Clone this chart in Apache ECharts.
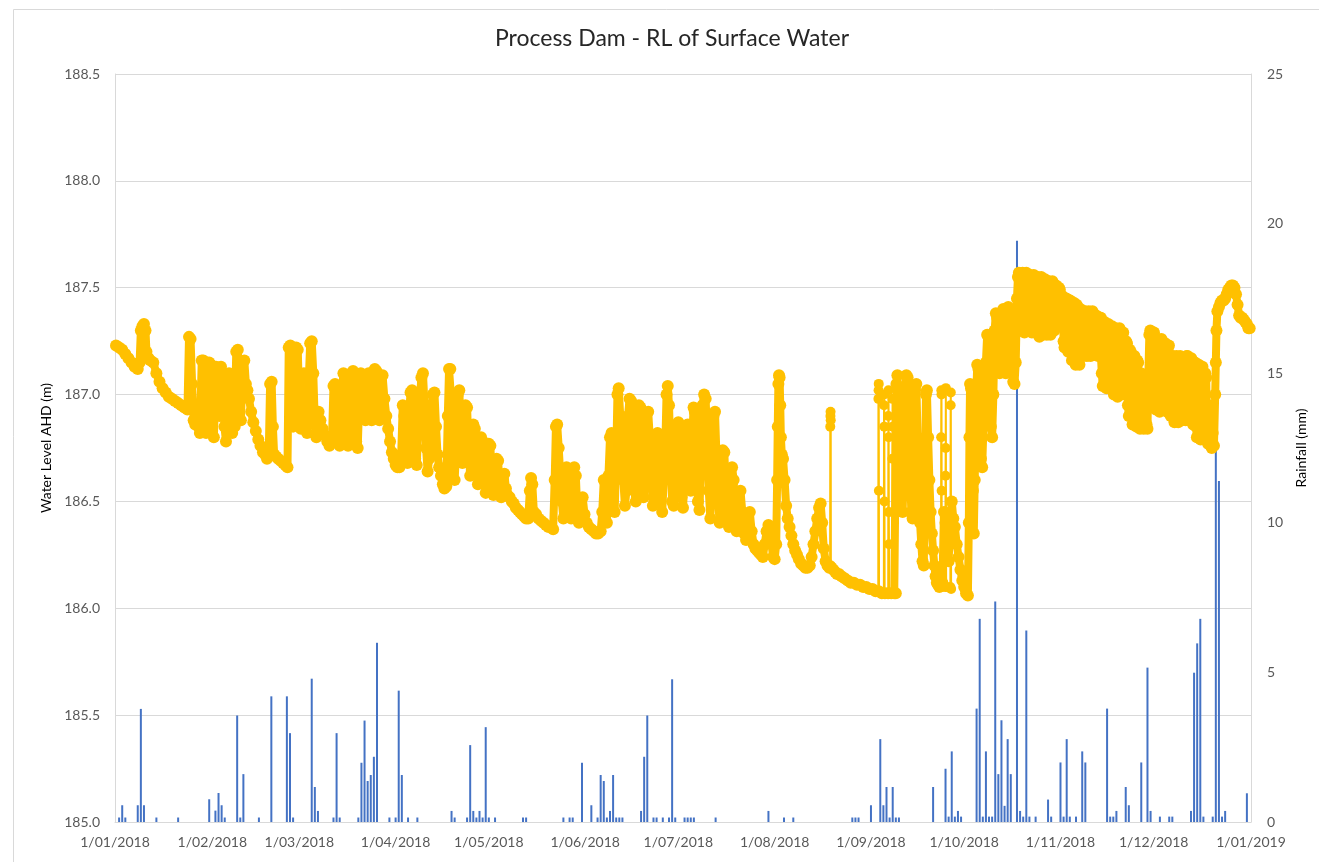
<!DOCTYPE html>
<html><head><meta charset="utf-8">
<script src="https://cdn.jsdelivr.net/npm/echarts@6/dist/echarts.min.js"></script>
<style>html,body{margin:0;padding:0;background:#fff}#c{width:1319px;height:862px}</style>
</head><body><div id="c"></div><script>
const START = Date.UTC(2018, 0, 1);
const END = Date.UTC(2019, 0, 1);
const DAY = 86400000;
const chartTitle = 'Process Dam - RL of Surface Water';
const leftAxisName = 'Water Level AHD (m)';
const rightAxisName = 'Rainfall (mm)';
const levelTicks = [185.0, 185.5, 186.0, 186.5, 187.0, 187.5, 188.0, 188.5];
const rainTicks = [0, 5, 10, 15, 20, 25];

// rainfall: day of year (0 = 1 Jan 2018) and mm
const rainDays = [1,2,3,7,8,9,13,20,30,32,33,34,35,39,40,41,46,50,55,56,57,63,64,65,70,71,72,78,79,80,81,82,83,84,88,90,91,92,94,97,
108,109,113,114,115,116,117,118,119,120,122,131,132,144,146,147,150,153,155,156,157,158,159,160,161,162,163,169,170,171,173,174,176,178,179,180,183,184,185,186,193,
210,215,218,237,238,239,243,246,247,248,249,250,251,252,263,267,268,269,270,271,272,277,278,279,280,281,282,283,284,285,286,287,288,290,291,292,293,294,296,
300,301,304,305,306,307,309,311,312,319,320,321,322,325,326,330,332,333,336,339,340,346,347,348,349,350,353,354,355,356,357,364];
const rainMm = [0.15,0.56,0.15,0.56,3.78,0.56,0.15,0.15,0.76,0.38,0.97,0.56,0.15,3.56,0.15,1.6,0.15,4.2,4.2,2.97,0.15,4.79,1.17,0.37,0.15,2.97,0.15,0.15,1.98,3.39,1.37,1.57,2.18,5.99,0.15,0.15,4.39,1.57,0.15,0.15,
0.37,0.15,0.15,2.57,0.37,0.15,0.37,0.15,3.17,0.15,0.15,0.15,0.15,0.15,0.15,0.15,1.98,0.56,0.15,1.57,1.37,0.15,0.37,1.57,0.15,0.15,0.15,0.37,2.18,3.56,0.15,0.15,0.15,0.15,4.77,0.15,0.15,0.15,0.15,0.15,0.15,
0.37,0.15,0.15,0.15,0.15,0.15,0.56,2.77,0.56,1.17,0.15,1.17,0.15,0.15,1.17,1.78,0.18,2.36,0.18,0.37,0.18,3.79,6.79,0.18,2.36,0.18,0.18,7.37,1.6,3.4,0.54,2.77,1.6,19.43,0.37,0.18,6.4,0.18,0.18,
0.75,0.18,1.99,0.18,2.77,0.18,0.18,2.36,1.99,3.79,0.18,0.18,0.37,1.17,0.56,1.99,5.16,0.37,0.18,0.18,0.18,0.37,4.99,5.97,6.79,0.18,0.18,17.2,11.4,0.18,0.37,0.96];

// water level readings: [day of year, RL (m)]
const waterLevel = [
[0,187.23],[1,187.22],[2,187.21],[3,187.19],[4,187.17],[5,187.15],[6,187.13],[7,187.12],[7.6,187.15],[8,187.3],[8.5,187.32],[9,187.33],[9.5,187.3],[9.8,187.2],[10.5,187.17],[11,187.16],[12,187.15],[13,187.1],[14,187.06],[15,187.03],[16,187.01],[17,186.99],[18,186.98],[19,186.97],[20,186.96],[21,186.95],[22,186.94],[23,186.93],
[23.5,187.27],[24,187.26],[24.5,187.05],[25,186.88],[25.5,186.86],[26,186.92],[26.5,186.85],[27,186.82],[27.6,187.16],[28.1,187.16],[28.6,186.95],[29,186.82],[29.5,186.86],[30,187.15],[30.5,187.14],[31,186.9],[31.5,186.8],[32.2,187.13],[32.8,187.12],[33.3,186.9],[33.8,187.13],[34.4,187.1],[34.9,186.85],[35.4,186.78],[35.9,187.08],[36.4,187.1],[36.9,186.9],[37.4,186.82],[38.2,186.85],[38.7,187.2],[39.2,187.21],[39.7,187.05],[40.2,186.88],[40.8,187.15],[41.3,187.16],[41.8,187.05],[42.3,187.02],
[42.8,186.98],[43.5,186.92],[44.2,186.87],[45,186.83],[45.8,186.79],[46.5,186.76],[47.3,186.73],[48,186.72],[48.6,186.7],[49.2,186.75],[49.6,187.05],[50.1,187.06],[50.5,186.85],[50.9,186.72],[51.5,186.71],[52.2,186.7],[53,186.69],[53.8,186.68],[54.5,186.67],[55.2,186.66],[55.6,187.22],[56.1,187.23],[56.6,187],[57,186.85],[57.5,187.05],[58,187.22],[58.5,187.21],[59,186.95],[59.5,186.84],[60,186.9],[60.5,187.1],[61,186.92],[61.5,186.82],[62,187.05],[62.5,187.24],[63,187.25],[63.5,187.1],[64,186.86],[64.5,186.8],
[65.2,186.92],[65.8,186.88],[66.5,186.84],[67.2,186.81],[68,186.78],[68.7,186.76],[69.5,186.78],[70,187.04],[70.5,187.05],[71,186.9],[71.5,186.8],[72,186.76],[72.6,187],[73.2,187.1],[73.7,187.09],[74.2,186.88],[74.7,186.76],[75.3,186.8],[75.8,187.1],[76.3,187.11],[76.8,186.92],[77.3,186.78],[77.8,186.75],[78.3,186.98],[78.8,187.1],[79.3,187.08],[79.8,186.9],[80.3,186.88],[80.8,187.08],[81.3,187.1],[81.8,186.95],[82.3,186.88],[82.8,187.05],[83.3,187.12],[83.8,187.11],[84.3,186.95],[84.8,186.88],[85.3,187],[85.8,187.09],
[86.4,186.98],[87,186.9],[87.6,186.84],[88.2,186.78],[88.8,186.73],[89.4,186.7],[90,186.67],[90.6,186.66],[91.2,186.66],
[91.8,186.72],[92.3,186.95],[92.8,186.9],[93.3,186.7],[93.8,186.68],[94.3,186.9],[94.8,187.01],[95.3,187.02],[95.8,186.85],[96.3,186.7],[96.8,186.67],[97.3,186.85],[97.8,186.98],[98.3,187.08],[98.8,187.1],[99.3,186.95],[99.8,186.75],[100.3,186.64],
[100.8,186.7],[101.4,186.92],[102,187],[102.5,187.01],[103,186.85],[103.5,186.72],[104,186.66],[104.6,186.62],[105.2,186.58],[105.7,186.56],[106.3,186.57],[106.8,186.9],[107.2,187.12],[107.6,187.12],[108,186.95],[108.5,186.8],[109,186.6],
[109.5,186.75],[110,187],[110.5,187.02],[111,186.82],[111.5,186.68],[112,186.8],[112.5,186.95],[113,186.94],[113.5,186.75],[114,186.62],[114.5,186.72],[115,186.86],[115.5,186.84],[116,186.65],[116.5,186.58],
[117,186.72],[117.5,186.8],[118,186.78],[118.5,186.6],[119,186.54],[119.5,186.65],[120,186.77],[120.5,186.76],[121,186.58],[121.5,186.53],[122,186.62],[122.5,186.7],[123,186.69],[123.5,186.55],[124,186.52],
[124.5,186.6],[125,186.63],[125.5,186.56],[126,186.53],[126.7,186.52],[127.4,186.5],[128,186.49],[128.7,186.47],[129.4,186.46],[130,186.45],[130.7,186.44],[131.4,186.43],[132,186.42],[132.7,186.42],[133.2,186.55],[133.6,186.61],[134,186.58],[134.5,186.45],
[135.2,186.44],[136,186.42],[136.8,186.41],[137.6,186.4],[138.4,186.39],[139.2,186.38],[140,186.38],[140.7,186.37],[141.2,186.6],[141.6,186.85],[142,186.86],[142.5,186.75],[143,186.62],[143.5,186.5],[144,186.42],[144.5,186.55],
[145,186.66],[145.5,186.64],[146,186.48],[146.5,186.42],[147,186.55],[147.5,186.66],[148,186.62],[148.5,186.45],[149,186.4],[149.6,186.45],[150.2,186.52],[150.8,186.44],[151.5,186.4],[152.2,186.38],[153,186.37],[153.8,186.36],[154.5,186.35],[155.2,186.35],[156,186.36],
[156.5,186.45],[157,186.6],[157.5,186.5],[158,186.4],[158.5,186.62],[159,186.8],[159.5,186.82],[160,186.6],[160.5,186.45],[161,186.7],[161.4,187],[161.8,187.03],[162.3,186.9],[162.8,186.75],[163.3,186.6],[163.8,186.48],[164.3,186.55],[164.8,186.9],
[165.3,186.98],[165.8,186.97],[166.3,186.75],[166.8,186.55],[167.3,186.5],[167.8,186.75],[168.3,186.95],[168.8,186.94],[169.3,186.7],[169.8,186.52],[170.3,186.6],[170.8,186.85],[171.3,186.92],[171.8,186.8],[172.3,186.6],[172.8,186.48],[173.3,186.55],
[173.8,186.8],[174.3,186.82],[174.8,186.65],[175.3,186.5],[175.8,186.45],[176.3,186.6],[176.8,186.75],[177.2,187],[177.6,187.04],[178,186.95],[178.5,186.7],[179,186.5],
[179.5,186.48],[180,186.7],[180.5,186.86],[181,186.87],[181.5,186.7],[182,186.52],[182.5,186.47],[183,186.6],[183.5,186.83],[184,186.86],[184.5,186.65],[185,186.55],[185.5,186.8],[185.9,186.94],[186.3,186.92],[186.8,186.7],
[187.3,186.5],[187.8,186.46],[188.3,186.7],[188.8,186.95],[189.3,187],[189.8,186.98],[190.3,186.75],[190.8,186.55],[191.3,186.42],[191.8,186.65],[192.3,186.9],[192.8,186.92],[193.3,186.7],[193.8,186.5],[194.3,186.4],
[194.8,186.55],[195.3,186.74],[195.8,186.73],[196.3,186.55],[196.8,186.42],[197.3,186.38],[197.8,186.5],[198.3,186.66],[198.8,186.6],[199.3,186.42],
[199.8,186.36],[200.4,186.52],[201,186.55],[201.6,186.45],[202.2,186.35],[202.8,186.32],[203.4,186.4],[204,186.45],[204.6,186.36],[205.2,186.3],[205.8,186.28],[206.4,186.27],[207,186.26],
[207.6,186.25],[208.2,186.24],[208.8,186.3],[209.4,186.36],[210,186.39],[210.5,186.38],[211,186.3],[211.5,186.24],[212,186.23],
[212.5,186.3],[212.8,186.6],[213,186.85],[213.2,187.05],[213.4,187.09],[213.6,187.08],[213.8,186.95],[214,186.8],[214.3,186.72],[214.7,186.7],
[215.2,186.6],[215.7,186.48],[216.2,186.42],[216.8,186.38],[217.4,186.34],[218,186.3],[218.6,186.27],[219.2,186.25],[219.8,186.23],
[220.5,186.21],[221.2,186.2],[221.9,186.19],[222.6,186.19],[223.3,186.2],[223.9,186.24],[224.5,186.3],[225.1,186.36],[225.7,186.42],[226.3,186.47],[226.8,186.49],[227.3,186.4],[227.8,186.28],[228.4,186.22],[229,186.2],[229.6,186.19],
[230.3,186.19],[230.9,186.18],[231.5,186.17],[232.1,186.16],[232.7,186.16],[233.5,186.15],[234.5,186.14],[235.5,186.13],[236.5,186.12],[237.5,186.12],[238.5,186.11],[239.5,186.11],[240.5,186.1],[241.5,186.1],[242.5,186.09],[243.5,186.09],[244.5,186.08],
[245.5,186.08],[246.5,186.07],[247.5,186.07],[248.5,186.07],[249.5,186.07],[250.5,186.07],[251,186.07],
[251.2,187.05],[251.5,187.09],[252,186.95],[252.4,186.75],[252.8,186.55],[253.2,186.45],[253.6,186.7],[254,187],[254.4,187.09],[254.8,187.08],[255.2,186.85],[255.6,186.62],[256,186.45],[256.4,186.42],[256.8,186.7],[257.2,187.02],[257.6,187.05],[258,186.8],[258.4,186.55],[258.8,186.4],[259.2,186.3],[259.6,186.22],[260,186.2],
[260.4,186.6],[260.7,187],[261,187.02],[261.4,186.8],[261.8,186.6],[262.2,186.45],[262.6,186.35],[263,186.27],[263.4,186.2],[263.8,186.15],[264.2,186.12],[264.6,186.11],
[265,186.1],[265.5,186.11],[266,186.12],[266.5,186.45],[267,186.4],[267.5,186.3],[268,186.22],[268.5,186.4],[269,186.5],[269.5,186.42],
[270,186.38],[270.6,186.3],[271.2,186.24],[271.8,186.18],[272.4,186.13],[273,186.1],[273.6,186.07],[274.2,186.06],
[274.5,186.4],[274.7,186.8],[274.9,187.05],[275.2,187.03],[275.5,186.8],[275.8,186.55],[276.1,186.35],[276.4,186.6],
[276.8,186.95],[277.2,187.14],[277.6,187.12],[278,186.9],[278.4,186.7],[278.8,186.66],[279.2,186.85],[279.6,187.1],[280,187.15],[280.4,187.28],[280.8,187.27],[281.2,187],[281.6,186.85],[282,186.8],[282.4,187],
[282.8,187.3],[283.2,187.38],[283.6,187.36],[284,187.15],[284.4,187.1],[284.8,187.25],[285.2,187.38],[285.6,187.4],
[286,187.2],[286.4,187.1],[286.8,187.3],[287.2,187.41],[287.6,187.4],[288,187.25],[288.4,187.12],[288.8,187.06],[289.2,187.05],[289.6,187.15],
[290,187.45],[290.3,187.55],[290.6,187.57],[290.9,187.35],[291.2,187.3],[291.5,187.55],[291.8,187.57],[292.1,187.32],[292.4,187.29],[292.7,187.56],[293,187.57],[293.3,187.33],[293.6,187.3],[293.9,187.56],[294.2,187.56],[294.5,187.31],[294.8,187.29],[295.1,187.55],[295.4,187.56],[295.7,187.32],[296,187.29],[296.3,187.55],[296.6,187.55],[296.9,187.3],[297.2,187.27],[297.5,187.54],[297.8,187.55],[298.1,187.3],[298.4,187.28],[298.7,187.54],[299,187.54],[299.3,187.3],[299.6,187.28],[299.9,187.53],[300.2,187.53],[300.5,187.3],[300.8,187.28],[301.1,187.52],[301.4,187.53],[301.7,187.32],[302,187.3],[302.3,187.51],[302.6,187.51],[302.9,187.33],[303.2,187.32],[303.5,187.5],[303.8,187.49],[304.1,187.35],
[304.4,187.45],[304.7,187.46],[305,187.25],[305.3,187.22],[305.6,187.45],[305.9,187.45],[306.2,187.24],[306.5,187.2],[306.8,187.44],[307.1,187.44],[307.4,187.2],[307.7,187.16],[308,187.42],[308.3,187.43],[308.6,187.17],[308.9,187.14],[309.2,187.42],[309.5,187.41],[309.8,187.16],[310.1,187.14],[310.4,187.4],[310.7,187.39],[311,187.2],[311.3,187.18],[311.6,187.39],[311.9,187.39],[312.2,187.2],[312.5,187.18],[312.8,187.38],[313.1,187.39],[313.4,187.2],[313.7,187.18],[314,187.38],[314.3,187.39],[314.6,187.22],[314.9,187.2],[315.2,187.37],[315.5,187.37],[315.8,187.2],[316.1,187.18],[316.4,187.36],[316.7,187.36],
[317,187.36],[317.3,187.1],[317.6,187.04],[317.9,187.32],[318.2,187.34],[318.5,187.06],[318.8,187.03],[319.1,187.3],[319.4,187.33],[319.7,187.05],[320,187.03],[320.3,187.3],[320.6,187.32],[320.9,187.02],[321.2,187],[321.5,187.3],[321.8,187.31],[322.1,187.02],[322.4,186.99],[322.7,187.3],[323,187.31],[323.3,187.03],[323.6,187],[323.9,187.28],[324.2,187.29],[324.5,187.02],[324.8,187],[325.1,187.25],[325.4,187.24],[325.7,186.95],[326,186.9],[326.3,187.21],[326.6,187.2],[326.9,186.9],[327.2,186.86],[327.5,187.18],[327.8,187.18],[328.1,186.88],[328.4,186.85],[328.7,187.16],[329,187.15],[329.3,186.88],[329.6,186.84],[329.9,187.1],[330.2,187.08],[330.5,186.86],[330.8,186.84],[331.1,187.05],[331.4,187.02],[331.7,186.86],[332,186.84],
[332.3,187.1],[332.6,187.28],[332.9,187.3],[333.2,187],[333.5,186.95],[333.8,187.28],[334.1,187.29],[334.4,186.98],[334.7,186.93],[335,187.25],[335.3,187.26],[335.6,186.96],[335.9,186.92],[336.2,187.25],[336.5,187.26],[336.8,186.98],[337.1,186.94],[337.4,187.24],[337.7,187.24],[338,186.95],[338.3,186.92],[338.6,187.22],[338.9,187.23],[339.2,186.95],[339.5,186.9],[339.8,187.18],[340.1,187.18],[340.4,186.9],[340.7,186.87],[341,187.17],[341.3,187.18],[341.6,186.9],[341.9,186.87],[342.2,187.17],[342.5,187.18],[342.8,186.92],[343.1,186.88],[343.4,187.16],[343.7,187.17],[344,186.92],[344.3,186.88],[344.6,187.18],[344.9,187.18],[345.2,186.92],[345.5,186.88],[345.8,187.17],[346.1,187.17],[346.4,186.9],[346.7,186.86],[347,187.15],[347.3,187.15],[347.6,186.85],[347.9,186.8],[348.2,187.14],[348.5,187.14],[348.8,186.83],[349.1,186.79],[349.4,187.12],[349.7,187.13],[350,186.85],[350.3,186.8],[350.6,187.1],[350.9,187.08],[351.2,186.82],[351.5,186.77],[351.8,186.95],[352.1,186.92],[352.4,186.76],[352.7,186.75],[353,186.82],[353.4,186.76],
[353.8,187],[354,187.15],[354.2,187.3],[354.5,187.39],[355,187.41],[355.5,187.43],[356,187.44],[356.5,187.44],[357,187.45],[357.5,187.47],[358,187.49],[358.5,187.5],[359,187.51],[359.5,187.51],[360,187.5],[360.5,187.47],
[361,187.42],[361.5,187.37],[362,187.36],[362.5,187.36],[363,187.35],[363.5,187.34],[364,187.33],[364.5,187.31],[364.9,187.31]
];

// sparse readings drawn as thin traces (null separates traces)
const waterLevelTraces = [
[229.85,186.2],[229.9,186.85],[229.95,186.9],[230,186.92],[230.05,186.88],[230.1,186.2], null,
[245.35,186.08],[245.4,186.98],[245.45,187.02],[245.5,187.05],[245.55,186.55],[245.6,186.08],
[247.15,186.07],[247.2,186.95],[247.25,187.0],[247.3,186.85],[247.35,186.5],[247.4,186.07],
[248.55,186.07],[248.6,186.9],[248.65,187.02],[248.7,186.8],[248.75,186.45],[248.8,186.3],[248.85,186.07],
[249.85,186.07],[249.9,186.7],[249.95,186.98],[250,186.85],[250.05,186.07], null,
[265.55,186.1],[265.6,186.8],[265.65,187.02],[265.7,187.0],[265.75,186.55],[265.8,186.1],
[266.95,186.1],[267,186.62],[267.05,186.75],[267.1,187.03],[267.15,186.45],[267.2,186.1],
[268.55,186.1],[268.6,186.42],[268.65,186.95],[268.7,187.01],[268.75,186.4],[268.8,186.09]
];

const toTime = d => START + d * DAY;
const rainSeriesData = rainDays.map((d, i) => [toTime(d), rainMm[i]]);
const levelSeriesData = waterLevel.map(p => [toTime(p[0]), p[1]]);
const traceSegments = [];
let seg = [];
waterLevelTraces.forEach(p => {
  if (p === null) { if (seg.length) traceSegments.push(seg); seg = []; }
  else seg.push([toTime(p[0]), p[1]]);
});
if (seg.length) traceSegments.push(seg);

const FONT = 'Lato';
const ORANGE = '#FFC000';
const BLUE = '#4472C4';
const GRID = '#d9d9d9';

function fmtDate(v) {
  const dt = new Date(v + 12 * 3600 * 1000);
  return dt.getUTCDate() + '/' + String(dt.getUTCMonth() + 1).padStart(2, '0') + '/' + dt.getUTCFullYear();
}

const chart = echarts.init(document.getElementById('c'), null, {renderer: 'canvas'});
const series = [{
  name: 'Rainfall', type: 'bar', xAxisIndex: 0, yAxisIndex: 1,
  data: rainSeriesData, barWidth: 2, itemStyle: {color: BLUE}, z: 1, silent: true
}, {
  name: 'Water Level', type: 'line', xAxisIndex: 0, yAxisIndex: 0,
  data: levelSeriesData, symbol: 'circle', symbolSize: 12, showAllSymbol: true,
  itemStyle: {color: ORANGE}, lineStyle: {color: ORANGE, width: 8, cap: 'round', join: 'round'},
  sampling: null, z: 3, silent: true, clip: false
}];
traceSegments.forEach(s => series.push({
  name: 'Water Level', type: 'line', xAxisIndex: 0, yAxisIndex: 0,
  data: s, symbol: 'circle', symbolSize: 10, showAllSymbol: true,
  itemStyle: {color: ORANGE}, lineStyle: {color: ORANGE, width: 2},
  z: 3, silent: true
}));

chart.setOption({
  animation: false,
  useUTC: true,
  backgroundColor: '#ffffff',
  textStyle: {fontFamily: FONT},
  title: {
    text: chartTitle, left: 672, top: 27, textAlign: 'center', padding: 0,
    textStyle: {fontFamily: FONT, fontSize: 23, fontWeight: 'normal', color: '#262626'}
  },
  graphic: [{
    type: 'rect', left: 11, top: 7, silent: true,
    shape: {width: 1400, height: 900},
    style: {fill: 'none', stroke: GRID, lineWidth: 1}
  }],
  grid: {left: 115, right: 68, top: 74, bottom: 40, containLabel: false},
  xAxis: {
    type: 'time', min: START, max: END,
    minInterval: 28 * DAY, maxInterval: 31 * DAY, splitNumber: 12,
    axisLine: {show: true, lineStyle: {color: GRID, width: 1}},
    axisTick: {show: false},
    splitLine: {show: false},
    axisLabel: {formatter: fmtDate, color: '#595959', fontSize: 14, fontFamily: FONT, margin: 13, showMinLabel: true, showMaxLabel: true}
  },
  yAxis: [{
    type: 'value', position: 'left',
    min: levelTicks[0], max: levelTicks[levelTicks.length - 1], interval: levelTicks[1] - levelTicks[0],
    name: leftAxisName, nameLocation: 'middle', nameRotate: 90, nameGap: 62,
    nameTextStyle: {color: '#000000', fontSize: 14, fontFamily: FONT},
    axisLine: {show: true, lineStyle: {color: GRID}},
    axisTick: {show: false},
    splitLine: {show: true, lineStyle: {color: GRID, width: 1}},
    axisLabel: {formatter: v => v.toFixed(1), color: '#595959', fontSize: 14, fontFamily: FONT, margin: 15}
  }, {
    type: 'value', position: 'right',
    min: rainTicks[0], max: rainTicks[rainTicks.length - 1], interval: rainTicks[1] - rainTicks[0],
    name: rightAxisName, nameLocation: 'middle', nameRotate: 90, nameGap: 43,
    nameTextStyle: {color: '#000000', fontSize: 14, fontFamily: FONT},
    axisLine: {show: true, lineStyle: {color: GRID}},
    axisTick: {show: false},
    splitLine: {show: false},
    axisLabel: {color: '#595959', fontSize: 14, fontFamily: FONT, margin: 16}
  }],
  series: series
});
</script></body></html>
